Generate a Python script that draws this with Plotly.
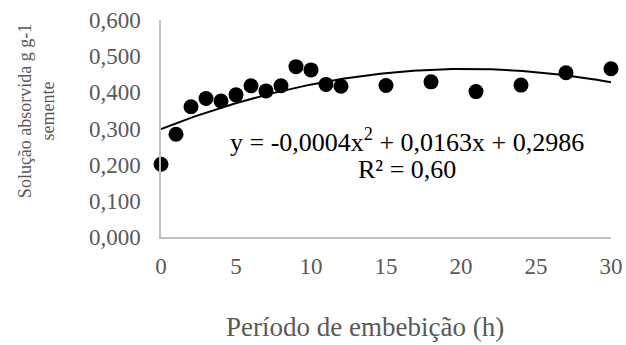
import numpy as np
import plotly.graph_objects as go

# Imbibition period (h) and absorbed solution (g g-1 seed)
horas = [0, 1, 2, 3, 4, 5, 6, 7, 8, 9, 10, 11, 12, 15, 18, 21, 24, 27, 30]
absorcao = [0.201, 0.284, 0.360, 0.383, 0.376, 0.393, 0.418, 0.404, 0.418,
            0.471, 0.462, 0.422, 0.417, 0.419, 0.429, 0.402, 0.420, 0.454, 0.465]

# Polynomial trendline coefficients (y = a x^2 + b x + c)
coef_a, coef_b, coef_c = -0.0004, 0.0163, 0.2986
equacao = "y = -0,0004x<sup>2</sup> + 0,0163x + 0,2986"
r2_texto = "R² = 0,60"

y_ticks = [0.0, 0.1, 0.2, 0.3, 0.4, 0.5, 0.6]
x_ticks = [0, 5, 10, 15, 20, 25, 30]

FONT = "Liberation Serif, Times New Roman, serif"
GRAY_TXT = "#595959"
AXIS_COLOR = "#bfbfbf"

xs = np.linspace(0, 30, 200)
trend = coef_a * xs ** 2 + coef_b * xs + coef_c

fig = go.Figure()
fig.add_trace(go.Scatter(
    x=xs, y=trend, mode="lines",
    line=dict(color="black", width=2),
    hoverinfo="skip", showlegend=False,
))
fig.add_trace(go.Scatter(
    x=horas, y=absorcao, mode="markers",
    marker=dict(color="black", size=15),
    cliponaxis=False,
    showlegend=False,
))

fig.update_layout(
    width=626, height=345,
    margin=dict(l=161, r=15, t=20, b=108, autoexpand=False),
    paper_bgcolor="white", plot_bgcolor="white",
    separators=",.",
    font=dict(family=FONT, color=GRAY_TXT, size=23),
    xaxis=dict(
        range=[0, 30], tickvals=x_ticks, showgrid=False, zeroline=False,
        showline=True, linecolor=AXIS_COLOR, linewidth=1.5, automargin=False,
        ticks="outside", ticklen=8, tickcolor="rgba(0,0,0,0)",
        tickfont=dict(size=23, color=GRAY_TXT), fixedrange=True,
    ),
    yaxis=dict(
        range=[0, 0.6], tickvals=y_ticks, tickformat=".3f", showgrid=False,
        zeroline=False, showline=True, linecolor=AXIS_COLOR, linewidth=1.5,
        automargin=False, ticks="outside", ticklen=14, tickcolor="rgba(0,0,0,0)",
        tickfont=dict(size=23, color=GRAY_TXT), fixedrange=True,
    ),
    annotations=[
        dict(text=equacao, xref="paper", yref="paper",
             x=0.5456, y=0.4438, xanchor="center", yanchor="middle",
             showarrow=False, font=dict(family=FONT, size=26, color="black")),
        dict(text=r2_texto, xref="paper", yref="paper",
             x=0.5456, y=0.3088, xanchor="center", yanchor="middle",
             showarrow=False, font=dict(family=FONT, size=26, color="black")),
        dict(text="Solução absorvida g g-1<br>semente", xref="paper", yref="paper",
             x=-0.2778, y=0.580, xanchor="center", yanchor="middle", textangle=-90,
             showarrow=False, font=dict(family=FONT, size=18, color=GRAY_TXT)),
        dict(text="Período de embebição (h)", xref="paper", yref="paper",
             x=0.4533, y=-0.4147, xanchor="center", yanchor="middle",
             showarrow=False, font=dict(family=FONT, size=27, color=GRAY_TXT)),
    ],
)

fig.write_html("out.html")
